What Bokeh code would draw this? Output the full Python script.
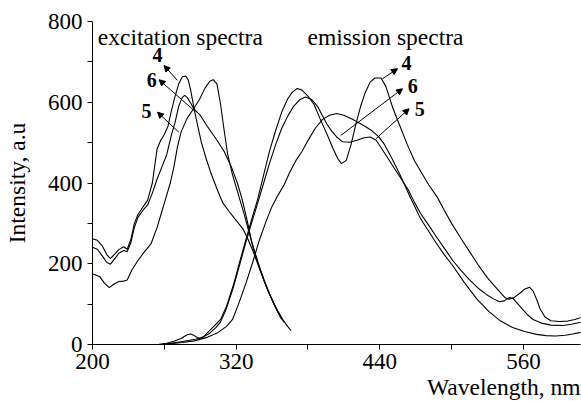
from bokeh.plotting import figure
from bokeh.models import Range1d, FixedTicker, Label, Arrow, NormalHead, Title
from bokeh.embed import file_html
from bokeh.resources import INLINE

# ---------------- data ----------------
x_ticks = [200, 320, 440, 560]
x_minor = [260, 380, 500]
y_ticks = [0, 200, 400, 600, 800]
y_minor = [100, 300, 500, 700]

# excitation spectra
ex4_x = [200, 204, 208, 212, 215, 219, 222, 226, 229, 232, 235, 238, 242, 246, 250, 254, 257, 260, 263, 266, 269, 272, 275, 278, 280, 282, 285,
         288, 291, 295, 299, 304, 309, 314, 318, 322, 326, 330, 334, 338, 342, 346, 350, 354, 358]
ex4_y = [262, 258, 245, 222, 213, 225, 235, 242, 236, 260, 300, 322, 340, 357, 400, 485, 506, 520, 540, 580, 615, 645, 663, 665, 655, 630, 582,
         540, 500, 460, 424, 385, 350, 330, 315, 300, 285, 260, 232, 200, 168, 138, 110, 85, 62]

ex6_x = [200, 204, 208, 212, 215, 219, 222, 226, 229, 232, 235, 238, 242, 246, 250, 254, 258, 262, 266, 269, 272, 275, 277, 279, 282, 285,
         290, 296, 304, 310, 316, 321, 325, 329, 333, 336, 340, 344, 348, 352, 356, 360]
ex6_y = [241, 236, 220, 203, 199, 214, 226, 233, 230, 252, 290, 315, 332, 345, 375, 410, 440, 470, 520, 550, 590, 612, 617, 612, 598, 582,
         568, 540, 506, 478, 440, 400, 360, 310, 255, 225, 188, 155, 125, 98, 75, 55]

ex5_x = [200, 206, 210, 214, 218, 222, 226, 229, 233, 238, 243, 249, 254, 258, 261, 265, 268, 271, 274, 279, 284, 289, 294, 298, 301,
         304, 307, 310, 313, 317, 322, 327, 331, 335, 339, 343, 347, 351, 355, 359, 363, 366]
ex5_y = [175, 168, 152, 141, 150, 156, 157, 160, 185, 208, 228, 250, 290, 330, 360, 400, 440, 490, 526, 560, 582, 605, 635, 652, 656,
         645, 595, 530, 470, 420, 370, 320, 275, 232, 195, 160, 130, 105, 82, 62, 45, 34]

# emission spectra
em4_x = [255, 262, 268, 274, 279, 282, 285, 289, 293, 298, 303, 307, 312, 318, 323, 328, 333, 338, 343, 348, 353, 358, 363, 367, 371, 375,
         380, 385, 390, 396, 401, 405, 408, 412, 416, 420, 424, 428, 432, 436, 441, 445, 451, 457, 463, 469, 475, 481, 488, 494, 500, 508,
         515, 522, 530, 538, 545, 548, 552, 557, 561, 565, 568, 571, 574, 578, 583, 590, 597, 603, 608]
em4_y = [0, 3, 8, 15, 24, 26, 22, 15, 20, 35, 50, 62, 95, 150, 205, 258, 310, 360, 420, 480, 530, 575, 608, 625, 634, 630,
         615, 595, 560, 520, 485, 460, 448, 456, 495, 545, 590, 625, 650, 660, 660, 640, 585, 540, 495, 455, 425, 395, 365, 332, 300, 262,
         230, 198, 165, 138, 115, 112, 116, 127, 137, 142, 133, 112, 88, 68, 59, 57, 58, 62, 67]

em6_x = [255, 262, 268, 274, 280, 286, 292, 298, 303, 307, 312, 318, 323, 328, 333, 338, 343, 348, 353, 358, 363, 368, 373, 378, 383, 388,
         392, 396, 400, 404, 409, 415, 421, 427, 432, 437, 441, 446, 452, 458, 464, 469, 474, 481, 487, 494, 501, 508, 515, 522, 529, 535,
         540, 544, 548, 551, 555, 559, 563, 568, 575, 583, 593, 600, 608]
em6_y = [0, 2, 4, 7, 10, 13, 18, 28, 42, 56, 90, 145, 198, 252, 302, 350, 400, 450, 495, 535, 565, 590, 606, 613, 607, 590,
         567, 545, 528, 514, 502, 501, 506, 512, 514, 506, 488, 465, 437, 410, 382, 352, 325, 295, 268, 238, 208, 183, 160, 140, 124, 113,
         106, 108, 116, 115, 102, 88, 75, 62, 53, 48, 47, 50, 55]

em5_x = [258, 265, 275, 285, 295, 305, 312, 317, 322, 328, 334, 339, 345, 350, 355, 360, 365, 370, 375, 380, 386, 392, 398, 404, 410, 416,
         422, 428, 434, 439, 444, 450, 457, 465, 474, 481, 487, 494, 501, 511, 521, 531, 541, 551, 561, 571, 579, 587, 595, 601, 608]
em5_y = [0, 2, 5, 9, 17, 30, 45, 62, 100, 150, 205, 255, 305, 342, 370, 395, 428, 456, 478, 505, 535, 557, 568, 572, 568, 560,
         550, 540, 528, 515, 495, 462, 420, 368, 312, 280, 252, 222, 195, 152, 113, 82, 58, 42, 32, 25, 22, 21, 23, 26, 30]

series = [(ex4_x, ex4_y), (ex6_x, ex6_y), (ex5_x, ex5_y), (em4_x, em4_y), (em6_x, em6_y), (em5_x, em5_y)]

# curve-number labels: (text, x, y) and arrows (x_start, y_start, x_end, y_end)
number_labels = [("4", 254.3, 717.6), ("6", 249.4, 654.0), ("5", 245.2, 577.6),
                 ("4", 462.4, 697.3), ("6", 467.6, 640.3), ("5", 473.4, 582.9)]
arrows = [(271.0, 654.0, 259.8, 691.0), (284.9, 579.6, 255.6, 655.7), (272.1, 525.9, 254.3, 575.4),
          (442.3, 658.2, 454.8, 683.0), (407.4, 517.7, 459.0, 633.4), (436.7, 509.5, 464.5, 583.8)]

FONT = "Liberation Serif"

p = figure(width=581, height=401, output_backend="svg", toolbar_location=None,
           x_range=Range1d(200, 607.7), y_range=Range1d(0, 800),
           min_border_left=92, min_border_right=1, min_border_top=21, min_border_bottom=57)
p.xgrid.visible = False
p.ygrid.visible = False
p.outline_line_color = None
p.background_fill_color = "white"
p.border_fill_color = "white"

for ax, tk, mn in ((p.xaxis[0], x_ticks, x_minor), (p.yaxis[0], y_ticks, y_minor)):
    ax.ticker = FixedTicker(ticks=tk, minor_ticks=mn)
    ax.major_tick_out = 5
    ax.major_tick_in = 0
    ax.minor_tick_out = 5
    ax.minor_tick_in = 0
    ax.axis_line_color = "black"
    ax.major_tick_line_color = "black"
    ax.minor_tick_line_color = "black"
    ax.major_label_text_font = FONT
    ax.major_label_text_font_size = "23px"
    ax.major_label_text_color = "black"
    ax.axis_label_text_font = FONT
    ax.axis_label_text_font_size = "23.5px"
    ax.axis_label_text_font_style = "normal"
    ax.axis_label_text_color = "black"

p.xaxis.major_label_standoff = 4
p.yaxis.major_label_standoff = 5
p.yaxis.axis_label = "Intensity, a.u"
p.yaxis.axis_label_standoff = 15

x_label_done = False
try:
    p.xaxis.axis_label_align = "right"
    p.xaxis.axis_label = "Wavelength, nm"
    p.xaxis.axis_label_standoff = -3
    x_label_done = True
except Exception:
    x_label_done = False
if not x_label_done:
    p.add_layout(Title(text="Wavelength, nm", align="right", text_font=FONT, text_font_size="23.5px",
                       text_font_style="normal", text_color="black", standoff=0), "below")

for xs, ys in series:
    p.line(xs, ys, line_color="black", line_width=1.1)

for xs, ys, xe, ye in arrows:
    p.add_layout(Arrow(end=NormalHead(size=6, fill_color="black", line_color="black", line_width=1),
                       x_start=xs, y_start=ys, x_end=xe, y_end=ye, line_color="black", line_width=1))

for t, x, y in number_labels:
    p.add_layout(Label(x=x, y=y, text=t, text_font=FONT, text_font_size="20px", text_font_style="bold",
                       text_align="center", text_baseline="middle", text_color="black"))

p.add_layout(Label(x=204.4, y=761, text="excitation spectra", text_font=FONT, text_font_size="23.5px",
                   text_align="left", text_baseline="alphabetic", text_color="black"))
p.add_layout(Label(x=379.6, y=761, text="emission spectra", text_font=FONT, text_font_size="23.5px",
                   text_align="left", text_baseline="alphabetic", text_color="black"))

open("out.html", "w").write(file_html(p, INLINE))
